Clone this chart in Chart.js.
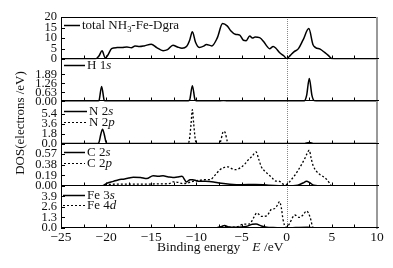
<!DOCTYPE html>
<html>
<head>
<meta charset="utf-8">
<script src="https://cdn.jsdelivr.net/npm/chart.js@4.4.0/dist/chart.umd.min.js"></script>
<style>
  html, body { margin: 0; padding: 0; background: #fff; }
  #chartHolder { position: relative; width: 393px; height: 268px; }
</style>
</head>
<body>
<div id="chartHolder"><canvas id="dosChart" width="393" height="268"></canvas></div>
<script>
// energies (eV) and DOS values
let totalE   = [-25, -21.2, -20.8, -20.45, -20.1, -19.8, -19.4, -18.8, -18.2, -17.7, -17.2, -16.8, -16.3, -15.8, -15.0, -14.4, -13.7, -13.2, -12.6, -12.1, -11.6, -11.1, -10.75, -10.45, -10.1, -9.7, -9.2, -8.9, -8.3, -7.7, -7.1, -6.6, -6.2, -5.7, -5.2, -4.8, -4.5, -4.1, -3.8, -3.5, -3.0, -2.5, -2.2, -1.9, -1.5, -1.2, -0.8, -0.3, 0, 0.4, 0.8, 1.3, 1.8, 2.45, 2.9, 3.2, 3.7, 4.2, 4.6, 5.0, 5.3, 10];
let totalDos = [0, 0, 1.5, 4.0, 0.6, 2.0, 5.0, 5.5, 5.6, 5.8, 5.4, 6.2, 6.0, 6.3, 7.1, 5.5, 4.0, 4.5, 6.6, 5.8, 5.2, 6.0, 9.0, 13.0, 8.0, 5.6, 6.2, 7.0, 6.3, 10.0, 16.9, 15.8, 13.5, 11.8, 11.4, 9.0, 8.8, 11.0, 10.0, 10.5, 10.2, 8.0, 6.2, 5.0, 6.0, 5.2, 3.2, 1.5, 0.3, 1.8, 3.5, 5.0, 9.0, 14.5, 7.0, 5.5, 4.8, 3.2, 1.8, 0.2, 0, 0];

let h1sE   = [-25, -21, -20.8, -20.5, -20.2, -20, -11, -10.75, -10.45, -10.15, -9.9, -7.5, -7, -6.5, 1.9, 2.2, 2.5, 2.8, 3.1, 4, 10];
let h1sDos = [0, 0, 0.05, 1.05, 0.05, 0, 0, 0.1, 1.1, 0.1, 0, 0, 0.04, 0, 0, 0.4, 1.6, 0.4, 0.02, 0, 0];

let n2sE   = [-25, -21, -20.8, -20.6, -20.4, -20.2, -20, -19.8, 1.9, 2.5, 3, 10];
let n2sDos = [0, 0, 0.2, 1.6, 2.6, 1.6, 0.2, 0, 0, 0.2, 0, 0];
let n2pE   = [-25, -11, -10.8, -10.6, -10.45, -10.3, -10.1, -9.9, -7.5, -7.3, -7.1, -6.95, -6.8, -6.6, -6.4, 2, 2.5, 3, 10];
let n2pDos = [0, 0, 0.5, 3.5, 6.1, 3.5, 0.5, 0, 0, 0.5, 1.9, 2.2, 1.9, 0.5, 0, 0, 0.15, 0, 0];

let c2sE   = [-25, -20.4, -20.0, -19.2, -18.6, -18.1, -17.5, -17, -16.2, -15.5, -14.8, -14.2, -13.7, -13.1, -12.6, -12.1, -11.6, -11.1, -10.7, -10.4, -10, -9.6, -9, -8.1, -7.5, -6.3, -5, -3.5, -2, 0, 1.2, 1.8, 2.2, 2.6, 3.0, 4, 10];
let c2sDos = [0, 0, 0.04, 0.08, 0.11, 0.12, 0.14, 0.155, 0.15, 0.13, 0.18, 0.17, 0.18, 0.16, 0.15, 0.16, 0.17, 0.07, 0.11, 0.11, 0.09, 0.08, 0.08, 0.07, 0.05, 0.03, 0.02, 0.025, 0.01, 0, 0.01, 0.05, 0.08, 0.05, 0.01, 0, 0];
let c2pE   = [-25, -20.4, -20, -18, -16, -14, -13, -12.6, -12, -11.5, -11, -10.4, -9.6, -9.0, -8.5, -8, -7.4, -6.9, -6.5, -6.1, -5.7, -5.3, -5.0, -4.6, -4.3, -3.8, -3.4, -3.1, -2.8, -2.4, -2.0, -1.6, -1.3, -0.8, -0.5, -0.2, 0.2, 0.5, 0.9, 1.3, 1.7, 2.0, 2.25, 2.5, 2.7, 2.9, 3.3, 3.7, 4.1, 4.4, 4.7, 5.0, 10];
let c2pDos = [0, 0, 0.02, 0.03, 0.03, 0.035, 0.04, 0.07, 0.06, 0.04, 0.05, 0.08, 0.1, 0.11, 0.11, 0.18, 0.29, 0.33, 0.34, 0.31, 0.29, 0.31, 0.34, 0.40, 0.46, 0.54, 0.61, 0.48, 0.34, 0.26, 0.2, 0.14, 0.09, 0.08, 0.04, 0.02, 0.05, 0.11, 0.19, 0.29, 0.40, 0.49, 0.58, 0.64, 0.5, 0.375, 0.26, 0.2, 0.16, 0.12, 0.06, 0, 0];

let fe3sE   = [-25, -8, -7.2, -6.9, -6.3, -5.5, -4.5, -3.8, -3.4, -2.8, -2.2, -1.5, 0, 1, 2.3, 3, 10];
let fe3sDos = [0, 0, 0.2, 0.3, 0.1, 0.1, 0.2, 0.45, 0.5, 0.25, 0.1, 0.05, 0, 0.05, 0.1, 0, 0];
let fe4dE   = [-25, -8, -7.2, -6.8, -6.2, -5.5, -4.8, -4.1, -3.7, -3.3, -2.8, -2.2, -1.7, -1.3, -1.0, -0.8, -0.6, -0.4, -0.1, 0.3, 0.6, 0.9, 1.4, 1.8, 2.2, 2.6, 2.9, 3.2, 10];
let fe4dDos = [0, 0, 0.15, 0.2, 0.1, 0.15, 0.47, 0.5, 1.2, 1.86, 1.43, 1.5, 2.3, 2.4, 2.9, 3.25, 2.5, 1.0, 0.1, 0.5, 1.2, 1.6, 1.3, 1.6, 2.1, 1.3, 0.1, 0, 0];

// tick labels
let xTicks       = [-25, -20, -15, -10, -5, 0, 5, 10];
let yTicksTotal  = [0, 5, 10, 15, 20];
let yTicksH      = [0, 0.63, 1.26, 1.89];
let yTicksN      = [0, 1.8, 3.6, 5.4];
let yTicksC      = [0, 0.19, 0.38, 0.57];
let yTicksFe     = [0, 1.3, 2.6, 3.9];

let serif = "'Liberation Serif', 'Times New Roman', serif";
Chart.defaults.font.family = serif;
Chart.defaults.color = '#111';

function pts(xs, ys) {
    return xs.map((x, i) => ({ x: x, y: ys[i] }));
}

function series(label, xs, ys, axis, dotted) {
    return {
        label: label,
        data: pts(xs, ys),
        yAxisID: axis,
        borderColor: '#000',
        borderWidth: dotted ? 1.3 : 1.5,
        borderDash: dotted ? [2, 2] : [],
        pointRadius: 0,
        cubicInterpolationMode: 'monotone',
        fill: false
    };
}

function panelScale(max, ticks, dec, weight) {
    return {
        type: 'linear',
        position: 'left',
        stack: 'dos',
        stackWeight: 1,
        weight: weight,
        min: 0,
        max: max,
        afterBuildTicks: s => { s.ticks = ticks.map(v => ({ value: v })); },
        afterFit: s => { s.width = 61; },
        ticks: { callback: v => v.toFixed(dec), font: { size: 12.5 }, padding: 4, autoSkip: false },
        grid: { display: false, drawTicks: false },
        border: { display: false }
    };
}

// legend entries per panel: [dotted, text parts]
let legends = {
    yTot: { x0: 64, x1: 80, rows: [[false, [['total NH', 'n'], ['3', 'sub'], ['-Fe-Dgra', 'n']]]], dy: [8] },
    yH:   { x0: 64, x1: 85, rows: [[false, [['H 1', 'n'], ['s', 'i']]]], dy: [6] },
    yN:   { x0: 64, x1: 87, rows: [[false, [['N 2', 'n'], ['s', 'i']]], [true, [['N 2', 'n'], ['p', 'i']]]], dy: [10, 20.5] },
    yC:   { x0: 64, x1: 85, rows: [[false, [['C 2', 'n'], ['s', 'i']]], [true, [['C 2', 'n'], ['p', 'i']]]], dy: [8.5, 19.5] },
    yFe:  { x0: 63, x1: 85, rows: [[false, [['Fe 3', 'n'], ['s', 'i']]], [true, [['Fe 4', 'n'], ['d', 'i']]]], dy: [9, 19.5] }
};

function drawParts(ctx, parts, x, y, size) {
    parts.forEach(p => {
        let fs = p[1] === 'sub' ? size * 0.65 : size;
        ctx.font = (p[1] === 'i' ? 'italic ' : '') + fs + 'px ' + serif;
        ctx.fillText(p[0], x, p[1] === 'sub' ? y + 3.5 : y);
        x += ctx.measureText(p[0]).width;
    });
    return x;
}

let framePlugin = {
    id: 'frames',
    beforeDatasetsDraw(chart) {
        let ctx = chart.ctx, a = chart.chartArea;
        let x0 = Math.round(chart.scales.x.getPixelForValue(0)) + 0.5;
        ctx.save();
        ctx.strokeStyle = '#888';
        ctx.lineWidth = 1;
        ctx.setLineDash([1, 1]);
        ctx.beginPath();
        ctx.moveTo(x0, a.top);
        ctx.lineTo(x0, a.bottom);
        ctx.stroke();
        ctx.restore();
    },
    afterDraw(chart) {
        let ctx = chart.ctx, a = chart.chartArea, xs = chart.scales.x;
        ctx.save();
        ctx.strokeStyle = '#000';
        ctx.lineWidth = 1;

        // outer frame
        ctx.beginPath();
        ctx.moveTo(a.left, a.top + 0.5);
        ctx.lineTo(a.right, a.top + 0.5);
        ctx.moveTo(a.left + 0.5, a.top);
        ctx.lineTo(a.left + 0.5, a.bottom);
        ctx.stroke();
        ctx.strokeStyle = '#999';
        ctx.lineWidth = 2;
        ctx.beginPath();
        ctx.moveTo(a.right, a.top);
        ctx.lineTo(a.right, a.bottom + 1);
        ctx.stroke();

        ctx.strokeStyle = '#000';
        ctx.lineWidth = 1;
        Object.keys(legends).forEach(id => {
            let s = chart.scales[id];
            let yb = Math.round(s.bottom) - 0.5;
            ctx.beginPath();
            ctx.moveTo(a.left, yb);
            ctx.lineTo(a.right + 2, yb);
            // inward ticks on the energy axis, every 2.5 eV
            for (let e = -22.5; e < 10; e += 2.5) {
                let px = Math.round(xs.getPixelForValue(e)) + 0.5;
                ctx.moveTo(px, yb);
                ctx.lineTo(px, yb - 3);
            }
            s.ticks.forEach(t => {
                let py = Math.round(s.getPixelForValue(t.value)) + 0.5;
                ctx.moveTo(a.left, py);
                ctx.lineTo(a.left + 4, py);
            });
            ctx.stroke();

            // legend
            let lg = legends[id];
            ctx.fillStyle = '#111';
            ctx.textBaseline = 'middle';
            ctx.textAlign = 'left';
            lg.rows.forEach((row, i) => {
                let y = Math.round(s.top + lg.dy[i]) + 0.5;
                ctx.setLineDash(row[0] ? [2, 2] : []);
                ctx.lineWidth = row[0] ? 1.2 : 1.5;
                ctx.beginPath();
                ctx.moveTo(lg.x0, y);
                ctx.lineTo(lg.x1, y);
                ctx.stroke();
                ctx.setLineDash([]);
                drawParts(ctx, row[1], lg.x1 + 2, y + 0.5, 13);
            });
            ctx.lineWidth = 1;
        });

        // axis titles
        ctx.fillStyle = '#111';
        ctx.textBaseline = 'middle';
        let xEnd = drawParts(ctx, [['Binding energy', 'n']], 157, 247, 13.5);
        drawParts(ctx, [['E', 'i'], [' /eV', 'n']], xEnd + 12, 247, 13.5);

        ctx.translate(21, 123);
        ctx.rotate(-Math.PI / 2);
        ctx.textAlign = 'center';
        ctx.font = '13px ' + serif;
        ctx.fillText('DOS(electrons /eV)', 0, 0);
        ctx.restore();
    }
};

let ctx = document.getElementById('dosChart').getContext('2d');
let chart = new Chart(ctx, {
    type: 'line',
    data: {
        datasets: [
            series('total', totalE, totalDos, 'yTot', false),
            series('H 1s', h1sE, h1sDos, 'yH', false),
            series('N 2s', n2sE, n2sDos, 'yN', false),
            series('N 2p', n2pE, n2pDos, 'yN', true),
            series('C 2s', c2sE, c2sDos, 'yC', false),
            series('C 2p', c2pE, c2pDos, 'yC', true),
            series('Fe 3s', fe3sE, fe3sDos, 'yFe', false),
            series('Fe 4d', fe4dE, fe4dDos, 'yFe', true)
        ]
    },
    options: {
        responsive: false,
        animation: false,
        layout: { padding: { top: 17, right: 16, left: 0, bottom: 0 } },
        plugins: { legend: { display: false }, tooltip: { enabled: false } },
        scales: {
            x: {
                type: 'linear',
                min: -25,
                max: 10,
                afterBuildTicks: s => { s.ticks = xTicks.map(v => ({ value: v })); },
                afterFit: s => { s.height = 40; },
                ticks: {
                    callback: v => String(v).replace('-', '\u2212'),
                    font: { size: 13.5 },
                    padding: 1,
                    maxRotation: 0,
                    autoSkip: false
                },
                grid: { display: false, drawTicks: false },
                border: { display: false }
            },
            yFe:  panelScale(5.2, yTicksFe, 1, 1),
            yC:   panelScale(0.76, yTicksC, 2, 2),
            yN:   panelScale(7.6, yTicksN, 1, 3),
            yH:   panelScale(2.95, yTicksH, 2, 4),
            yTot: panelScale(20, yTicksTotal, 0, 5)
        }
    },
    plugins: [framePlugin]
});
</script>
</body>
</html>
